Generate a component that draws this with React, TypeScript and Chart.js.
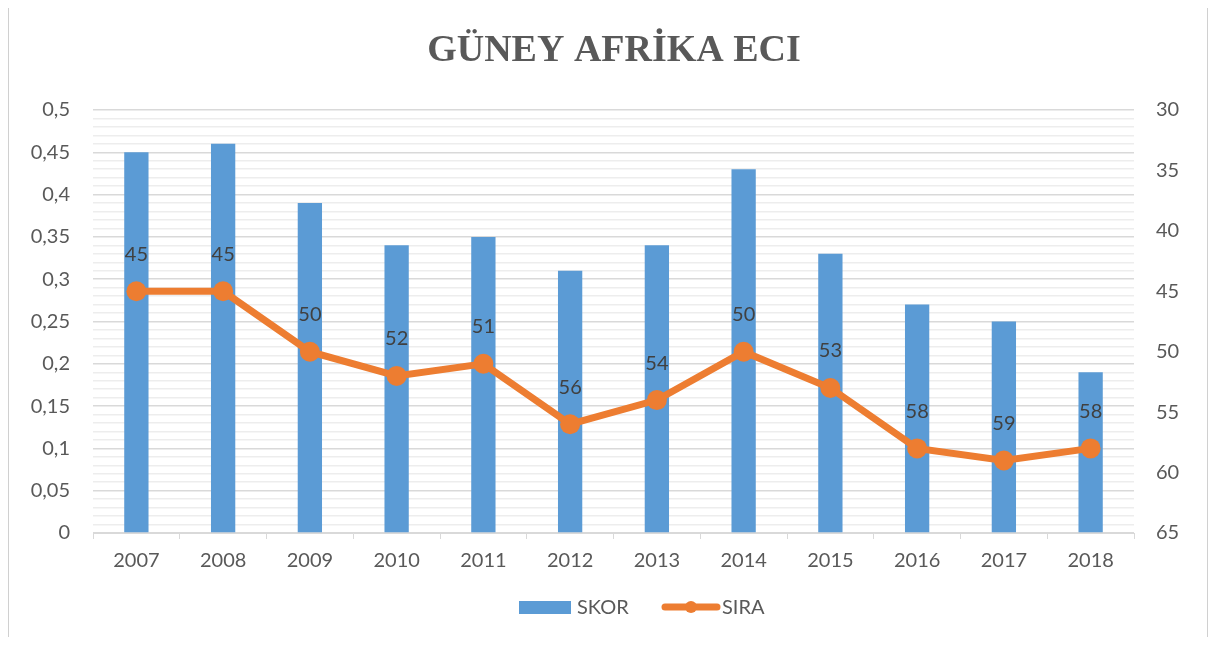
import React, { useEffect, useRef } from "react";
import { Chart, registerables } from "chart.js";

Chart.register(...registerables);

const TITLE = "GÜNEY AFRİKA ECI";
const YEARS = ["2007", "2008", "2009", "2010", "2011", "2012", "2013", "2014", "2015", "2016", "2017", "2018"];
const SKOR = [0.45, 0.46, 0.39, 0.34, 0.35, 0.31, 0.34, 0.43, 0.33, 0.27, 0.25, 0.19];
const SIRA = [45, 45, 50, 52, 51, 56, 54, 50, 53, 58, 59, 58];
const SKOR_LABEL = "SKOR";
const SIRA_LABEL = "SIRA";

const BLUE = "#5B9BD5";
const ORANGE = "#ED7D31";
const TEXT = "#595959";
const FONT = "Lato, 'Open Sans', sans-serif";

const extrasPlugin = {
  id: "extras",
  beforeDraw(chart: any) {
    const ctx = chart.ctx;
    ctx.save();
    ctx.strokeStyle = "#d0d0d0";
    ctx.lineWidth = 2;
    ctx.beginPath();
    ctx.moveTo(1, chart.height);
    ctx.lineTo(1, 1);
    ctx.lineTo(chart.width - 1, 1);
    ctx.lineTo(chart.width - 1, chart.height);
    ctx.stroke();
    ctx.restore();
  },
  afterDraw(chart: any) {
    const ctx = chart.ctx;
    const w = chart.width;
    ctx.save();
    // title
    ctx.fillStyle = TEXT;
    ctx.font = "bold 38px 'Liberation Serif', 'Times New Roman', serif";
    ctx.textAlign = "center";
    ctx.textBaseline = "alphabetic";
    ctx.fillText(TITLE, w / 2 + 6, 55);

    // legend
    const ly = 601;
    ctx.fillStyle = BLUE;
    ctx.fillRect(512, ly - 6, 52, 13);
    ctx.font = "20px " + FONT;
    ctx.fillStyle = TEXT;
    ctx.textAlign = "left";
    ctx.textBaseline = "middle";
    ctx.fillText(SKOR_LABEL, 570, ly + 1);
    ctx.strokeStyle = ORANGE;
    ctx.lineWidth = 7;
    ctx.lineCap = "round";
    ctx.beginPath();
    ctx.moveTo(658, ly);
    ctx.lineTo(710, ly);
    ctx.stroke();
    ctx.fillStyle = ORANGE;
    ctx.beginPath();
    ctx.arc(684, ly, 6, 0, Math.PI * 2);
    ctx.fill();
    ctx.fillStyle = TEXT;
    ctx.fillText(SIRA_LABEL, 715, ly + 1);
    ctx.restore();
  },
  afterDatasetsDraw(chart: any) {
    const ctx = chart.ctx;
    const meta = chart.getDatasetMeta(1);
    ctx.save();
    ctx.fillStyle = "#404040";
    ctx.font = "20px " + FONT;
    ctx.textAlign = "center";
    ctx.textBaseline = "middle";
    meta.data.forEach((pt: any, i: number) => {
      ctx.fillText(String(SIRA[i]), pt.x, pt.y - 37);
    });
    ctx.restore();
  },
};

export default function App() {
  const ref = useRef<HTMLCanvasElement>(null);
  useEffect(() => {
    if (!ref.current) return;
    const chart = new Chart(ref.current, {
      type: "bar",
      data: {
        labels: YEARS,
        datasets: [
          {
            type: "bar",
            label: SKOR_LABEL,
            data: SKOR,
            backgroundColor: BLUE,
            borderWidth: 0,
            barPercentage: 0.28,
            categoryPercentage: 1,
            yAxisID: "y",
            order: 1,
          },
          {
            type: "line",
            label: SIRA_LABEL,
            data: SIRA,
            borderColor: ORANGE,
            backgroundColor: ORANGE,
            borderWidth: 7,
            pointRadius: 10,
            pointBackgroundColor: ORANGE,
            pointBorderWidth: 0,
            yAxisID: "y2",
            order: 0,
          } as any,
        ],
      },
      options: {
        animation: false,
        responsive: true,
        maintainAspectRatio: false,
        layout: { padding: { top: 104, bottom: 54, left: 0, right: 0 } },
        plugins: {
          legend: { display: false },
          title: { display: false },
          tooltip: { enabled: false },
        },
        scales: {
          x: {
            offset: true,
            grid: {
              offset: true,
              drawOnChartArea: false,
              drawTicks: true,
              tickLength: 6,
              color: "#d9d9d9",
            },
            border: { display: true, color: "#d9d9d9" },
            ticks: { color: TEXT, font: { family: FONT, size: 20 }, padding: 10, maxRotation: 0 },
            afterFit(scale: any) {
              scale.height = 50;
            },
          },
          y: {
            position: "left",
            min: 0,
            max: 0.5,
            grid: {
              drawTicks: false,
              color: (c: any) => {
                const v = Math.round((c.tick?.value ?? 0) * 100);
                return v % 5 === 0 ? "#d9d9d9" : "#ededed";
              },
              lineWidth: 1.5,
            },
            border: { display: false },
            ticks: {
              stepSize: 0.01,
              autoSkip: false,
              padding: 23,
              color: TEXT,
              font: { family: FONT, size: 20 },
              callback: (v: any) => {
                const n = Math.round(Number(v) * 100);
                if (n % 5 !== 0) return "";
                return String(n / 100).replace(".", ",");
              },
            },
            afterFit(scale: any) {
              scale.width = 86;
            },
          },
          y2: {
            position: "right",
            reverse: true,
            min: 30,
            max: 65,
            grid: { drawOnChartArea: false, drawTicks: false },
            border: { display: false },
            ticks: {
              stepSize: 5,
              padding: 22,
              color: TEXT,
              font: { family: FONT, size: 20 },
            },
            afterFit(scale: any) {
              scale.width = 75;
            },
          },
        },
      },
      plugins: [extrasPlugin],
    });
    return () => chart.destroy();
  }, []);

  return (
    <div
      style={{
        position: "relative",
        width: 1202,
        height: 631,
        marginTop: -2,
        marginLeft: -1,
        background: "#fff",
      }}
    >
      <canvas ref={ref} />
    </div>
  );
}
